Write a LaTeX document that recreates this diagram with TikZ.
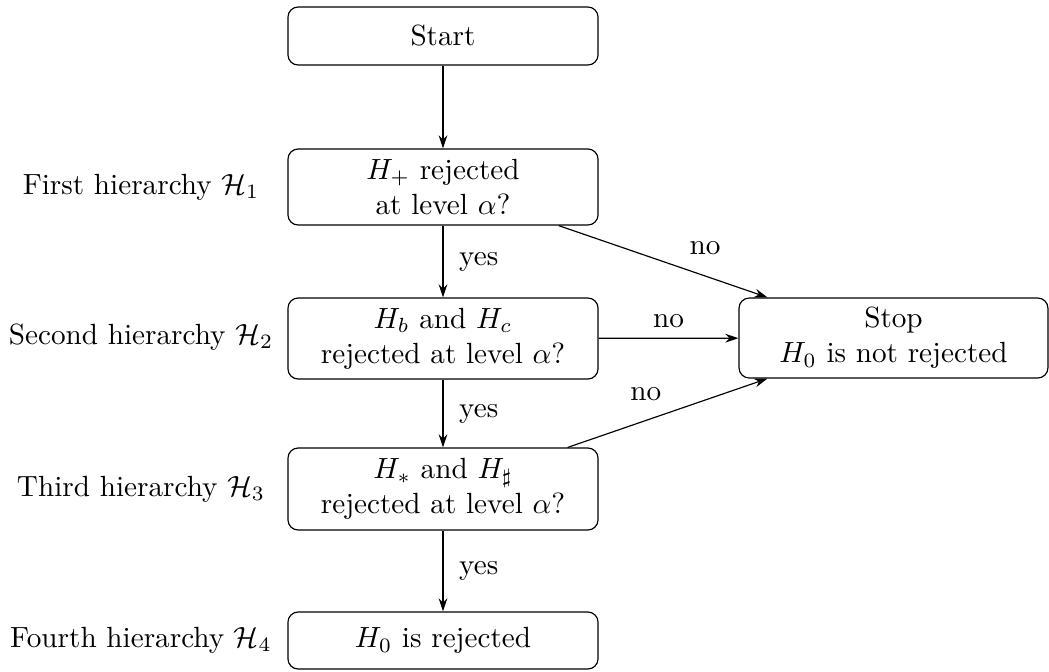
\documentclass[tikz,border=0pt]{standalone}
\usetikzlibrary{arrows.meta}
\begin{document}
\begin{tikzpicture}[x=0.34247pt,y=-0.34247pt,
  box/.style={draw,rounded corners=3.5pt,minimum width=106.2pt,align=center,inner sep=0pt,line width=0.4pt},
  arr/.style={-{Stealth[length=4.5pt,width=3pt]},line width=0.4pt},
  lab/.style={font=\normalsize},
  side/.style={font=\normalsize}]
\useasboundingbox (0,0) rectangle (1049,671);
\node[box,minimum height=58*0.34247pt] (start) at (443,36) {Start};
\node[box,minimum height=76*0.34247pt] (h1) at (443,187) {$H_+$ rejected\\at level $\alpha$?};
\node[box,minimum height=81*0.34247pt] (h2) at (443,338.5) {$H_b$ and $H_c$\\rejected at level $\alpha$?};
\node[box,minimum height=82*0.34247pt] (h3) at (443,489) {$H_*$ and $H_\sharp$\\rejected at level $\alpha$?};
\node[box,minimum height=57*0.34247pt] (h4) at (443,640.5) {$H_0$ is rejected};
\node[box,minimum height=80*0.34247pt,minimum width=105.8pt] (stop) at (893.5,338) {Stop\\$H_0$ is not rejected};
\node[side] (l1) at (141,187) {First hierarchy $\mathcal{H}_1$};
\node[side] (l2) at (141,337) {Second hierarchy $\mathcal{H}_2$};
\node[side] (l3) at (141,489) {Third hierarchy $\mathcal{H}_3$};
\node[side] (l4) at (141,640) {Fourth hierarchy $\mathcal{H}_4$};
\draw[arr] (start) -- (h1);
\draw[arr] (h1) -- node[right,lab,xshift=2pt] (y1) {yes} (h2);
\draw[arr] (h2) -- node[right,lab,xshift=2pt] (y2) {yes} (h3);
\draw[arr] (h3) -- node[right,lab,xshift=2pt] (y3) {yes} (h4);
\draw[arr] ([xshift=-40*0.34247pt]h1.south east) -- node[above right,lab,pos=0.55,xshift=2pt] (n1) {no} ([xshift=29*0.34247pt]stop.north west);
\draw[arr] (h2) -- node[above,lab] (n2) {no} (stop);
\draw[arr] ([xshift=-31*0.34247pt]h3.north east) -- node[above left,lab,pos=0.52] (n3) {no} ([xshift=29*0.34247pt]stop.south west);
\end{tikzpicture}
\end{document}
